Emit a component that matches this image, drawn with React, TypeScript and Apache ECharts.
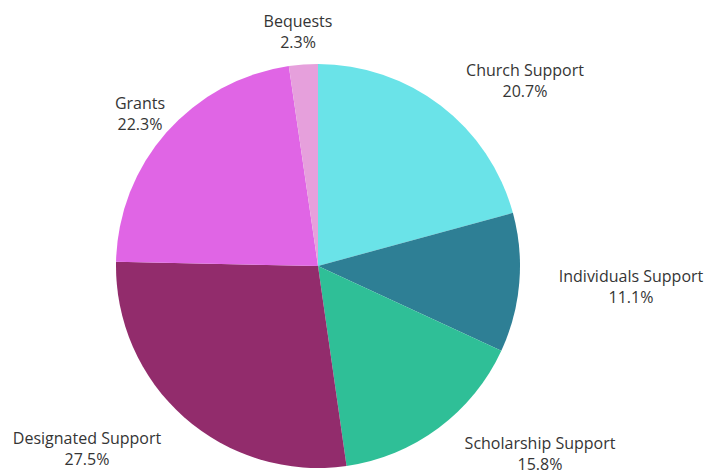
import React, { useEffect, useRef } from "react";
import * as echarts from "echarts";

const categories = [
  "Church Support",
  "Individuals Support",
  "Scholarship Support",
  "Designated Support",
  "Grants",
  "Bequests",
];
const values = [20.7, 11.1, 15.8, 27.5, 22.3, 2.3];
const colors = ["#6ae3e8", "#2e7f95", "#2fbf97", "#922c6c", "#e065e5", "#e6a0dc"];
// label centre positions (layout only)
const labelCenters: [number, number][] = [
  [525, 80],
  [631, 286],
  [540, 453],
  [87, 448],
  [140, 113],
  [298, 31],
];

export default function App() {
  const ref = useRef<HTMLDivElement>(null);
  useEffect(() => {
    if (!ref.current) return;
    const chart = echarts.init(ref.current, null, { renderer: "svg" });
    chart.setOption({
      animation: false,
      backgroundColor: "#ffffff",
      series: [
        {
          type: "pie",
          center: [318, 266],
          radius: 202,
          startAngle: 90,
          clockwise: true,
          avoidLabelOverlap: false,
          itemStyle: { borderWidth: 0 },
          label: {
            show: true,
            position: "outside",
            formatter: (p: any) => `{a|${p.name}}\n{a|${p.value}%}`,
            rich: {
              a: {
                fontFamily: "Open Sans",
                fontSize: 16,
                color: "#353535",
                lineHeight: 21,
                align: "center",
              },
            },
          },
          labelLine: { show: false },
          labelLayout: (p: any) => {
            const c = labelCenters[p.dataIndex];
            return { x: c[0], y: c[1], align: "center", verticalAlign: "middle" };
          },
          emphasis: { disabled: true },
          data: categories.map((name, i) => ({
            name,
            value: values[i],
            itemStyle: { color: colors[i] },
          })),
        },
      ],
    });
    return () => chart.dispose();
  }, []);
  return (
    <div
      ref={ref}
      style={{ position: "fixed", left: 0, top: 0, width: 711, height: 475 }}
    />
  );
}
